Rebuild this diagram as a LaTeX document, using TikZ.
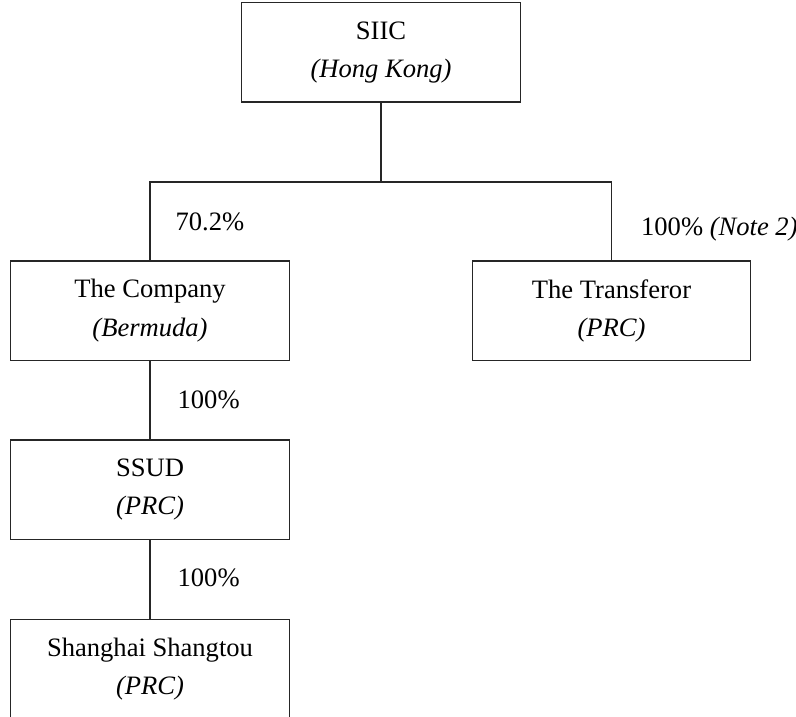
\documentclass[tikz,border=0pt]{standalone}
\usepackage{fontspec}
\setmainfont{Liberation Serif}
\begin{document}
\begin{tikzpicture}[x=0.025cm,y=-0.025cm,line width=0.9pt,
entity/.style ={rectangle, draw=black!85, align=center,
  minimum width=6.96cm, minimum height=2.49cm, inner sep=0pt,
  font=\fontsize{18.9}{27.2}\selectfont
},
share/.style ={anchor=base west, inner sep=0pt,
  font=\fontsize{18.9}{27.2}\selectfont
}]
\useasboundingbox (0,0) rectangle (796,717);

\node (siic) at (381,52.2) [entity] {SIIC\\\textit{(Hong Kong)}};
\node (company) at (150,310.7) [entity] {The Company\\\textit{(Bermuda)}};
\node (transferor) at (611.5,310.7) [entity] {The Transferor\\\textit{(PRC)}};
\node (ssud) at (150,489.7) [entity] {SSUD\\\textit{(PRC)}};
\node (shangtou) at (150,669) [entity] {Shanghai Shangtou\\\textit{(PRC)}};

\coordinate (split) at (381,182);
\draw[black!85] (siic) -- (split);
\draw[black!85] (company.north) |- (split) -| (transferor.north);
\draw[black!85] (company) -- (ssud);
\draw[black!85] (ssud) -- (shangtou);

\node (s1) at (175,230.5) [share] {70.2\%};
\node (s2) at (640.5,235) [share] {100\% \textit{(Note 2)}};
\node (s3) at (177,408.3) [share] {100\%};
\node (s4) at (177,586.7) [share] {100\%};

\end{tikzpicture}
\end{document}
